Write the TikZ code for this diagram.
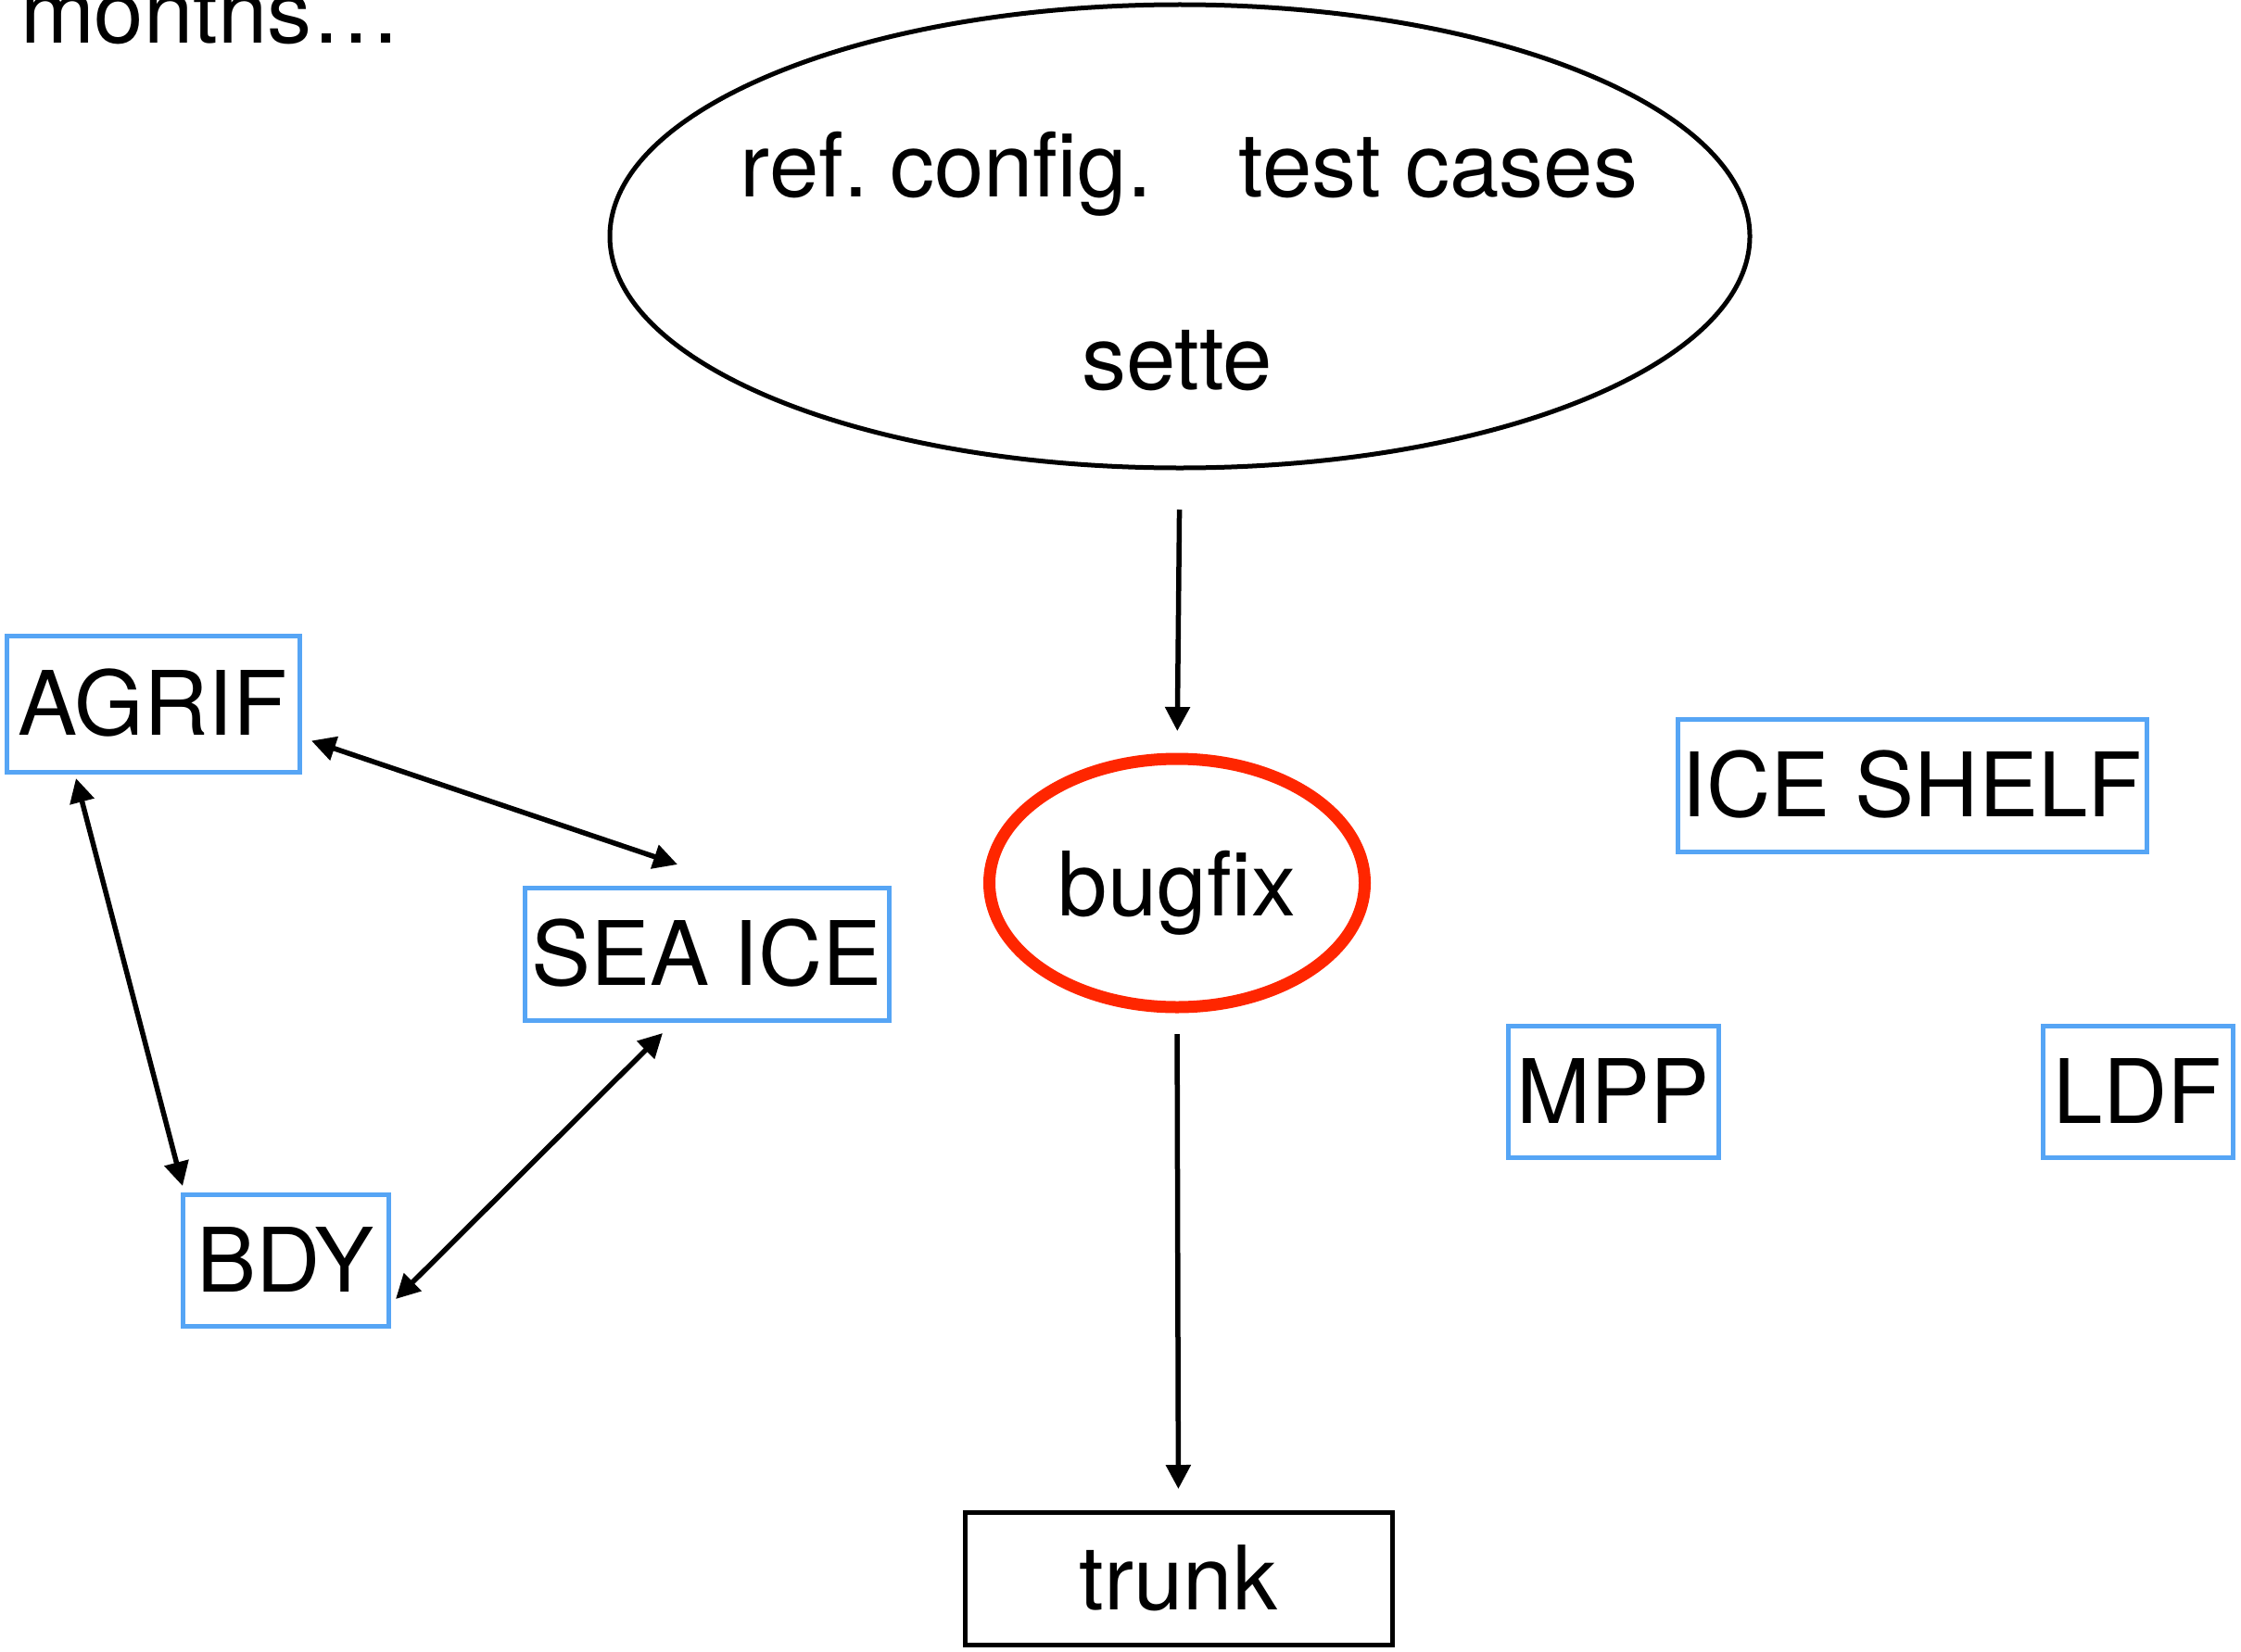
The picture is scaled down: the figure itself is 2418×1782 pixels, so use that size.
\documentclass[tikz,border=0pt]{standalone}
\usepackage{fontspec}
\setmainfont{TeX Gyre Heros}
\usetikzlibrary{shapes.geometric,arrows.meta}
\definecolor{boxblue}{HTML}{56A5F5}
\definecolor{bugred}{HTML}{FF2600}
\begin{document}
\begin{tikzpicture}[x=0.5pt,y=-0.5pt,
  every node/.style={font=\fontsize{48pt}{58pt}\selectfont, inner sep=0pt, outer sep=0pt},
  bluebox/.style={draw=boxblue, line width=2.5pt, rectangle, text height=34pt, text depth=0pt, minimum height=71.5pt},
  blackbox/.style={draw=black, line width=2.5pt, rectangle, text height=34pt, text depth=0pt, minimum height=71.5pt},
  conn/.style={line width=2.75pt, -{Triangle[length=13pt,width=13pt]}},
  dconn/.style={line width=2.75pt, {Triangle[length=13pt,width=13pt]}-{Triangle[length=13pt,width=13pt]}},
  lbl/.style={anchor=base}
]
\useasboundingbox (0,0) rectangle (2418,1782);

\node[lbl, anchor=base west] (months) at (22,47) {months…};

\node[draw, ellipse, line width=2.5pt, minimum width=615pt, minimum height=250pt] (top) at (1273,255) {};
\node[lbl] (ref) at (1021,212) {ref.\hspace{-6pt} config.};
\node[lbl] (tests) at (1552,212) {test cases};
\node[lbl] (sette) at (1270,420) {sette};

\node[draw=bugred, ellipse, line width=6.5pt, minimum width=202.5pt, minimum height=134pt, text height=35pt, text depth=0pt] (bugfix) at (1270,953) {bugfix};

\node[blackbox, minimum width=230.5pt] (trunk) at (1271.5,1703.5) {trunk};

\node[bluebox, minimum width=158pt, minimum height=73.5pt] (agrif) at (165,759.5) {AGRIF};
\node[bluebox, minimum width=196.5pt] (seaice) at (762.5,1029.5) {SEA ICE};
\node[bluebox, minimum width=111pt, minimum height=71pt] (bdy) at (308,1360) {BDY};
\node[bluebox, minimum width=253pt] (iceshelf) at (2063,847.5) {ICE SHELF};
\node[bluebox, minimum width=113.5pt, minimum height=71pt] (mpp) at (1740.5,1178) {MPP};
\node[bluebox, minimum width=102.5pt, minimum height=71pt] (ldf) at (2306.5,1178) {LDF};

\draw[conn, shorten <=22.5pt, shorten >=15pt] (top.south) -- (bugfix.north);
\draw[conn, shorten <=14.5pt, shorten >=12.5pt] (bugfix.south) -- (trunk.north);

\draw[dconn] ([shift={(13,40)}]agrif.east) -- ([shift={(-31.5,-25)}]seaice.north);
\draw[dconn] ([shift={(-83,7)}]agrif.south) -- ([shift={(0,-9)}]bdy.north west);
\draw[dconn] ([shift={(-47.5,14)}]seaice.south) -- ([shift={(8,42)}]bdy.east);
\end{tikzpicture}
\end{document}
